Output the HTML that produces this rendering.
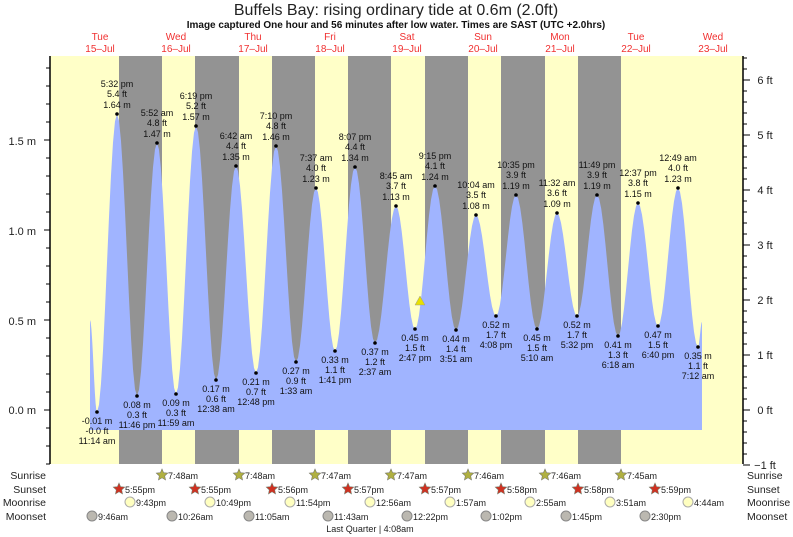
<!DOCTYPE html><html><head><meta charset="utf-8"><style>
body{margin:0;background:#fff}
svg{display:block;font-family:"Liberation Sans",sans-serif}
</style></head><body>
<svg id="s" width="793" height="537" viewBox="0 0 793 537" xmlns="http://www.w3.org/2000/svg">
<rect x="50" y="56" width="693" height="408" fill="#ffffc8"/>
<g id="bands" fill="#939393"></g>
<path id="tide" fill="#a0b4ff"/>
<g id="lbl" font-size="9" fill="#111" text-anchor="middle"></g>
<polygon points="420,296 415,305 425,305" fill="#e8e000" stroke="#999" stroke-width="0.5"/>
<line x1="50" y1="56" x2="50" y2="464" stroke="#000" stroke-width="1.5"/>
<line x1="743" y1="56" x2="743" y2="464" stroke="#000" stroke-width="1.5"/>
<g id="ax" font-size="11" fill="#222"></g>
<text x="396" y="15" font-size="16" text-anchor="middle" fill="#222">Buffels Bay: rising  ordinary tide at 0.6m (2.0ft)</text>
<text x="396" y="28" font-size="10" font-weight="bold" text-anchor="middle" fill="#111">Image captured One hour and 56 minutes after low water. Times are SAST (UTC +2.0hrs)</text>
<g id="days" font-size="10" fill="#f03030" text-anchor="middle"></g>
<g font-size="10.5" fill="#222">
<text x="46" y="479" text-anchor="end">Sunrise</text><text x="46" y="493" text-anchor="end">Sunset</text>
<text x="46" y="506" text-anchor="end">Moonrise</text><text x="46" y="520" text-anchor="end">Moonset</text>
<text x="747" y="479">Sunrise</text><text x="747" y="493">Sunset</text>
<text x="747" y="506">Moonrise</text><text x="747" y="520">Moonset</text>
</g>
<g id="astro" font-size="9" fill="#222"></g>
<text x="370" y="532" font-size="9" text-anchor="middle" fill="#222">Last Quarter | 4:08am</text>
</svg>
<script>
var NS="http://www.w3.org/2000/svg";
function el(p,t,a,txt){var e=document.createElementNS(NS,t);for(var k in a)e.setAttribute(k,a[k]);if(txt!=null)e.textContent=txt;document.getElementById(p).appendChild(e);return e;}
[[119,162],[195,239],[272,315],[348,391],[425,468],[501,545],[578,621]].forEach(function(b){el("bands","rect",{x:b[0],y:56,width:b[1]-b[0],height:408});});
var pts=[[90,320],[97,412,'-0.01 m','-0.0 ft','11:14 am'],[117,114,'5:32 pm','5.4 ft','1.64 m'],[137,396,'0.08 m','0.3 ft','11:46 pm'],[157,143,'5:52 am','4.8 ft','1.47 m'],[176,394,'0.09 m','0.3 ft','11:59 am'],[196,126,'6:19 pm','5.2 ft','1.57 m'],[216,380,'0.17 m','0.6 ft','12:38 am'],[236,166,'6:42 am','4.4 ft','1.35 m'],[256,373,'0.21 m','0.7 ft','12:48 pm'],[276,146,'7:10 pm','4.8 ft','1.46 m'],[296,362,'0.27 m','0.9 ft','1:33 am'],[316,188,'7:37 am','4.0 ft','1.23 m'],[335,351,'0.33 m','1.1 ft','1:41 pm'],[355,167,'8:07 pm','4.4 ft','1.34 m'],[375,343,'0.37 m','1.2 ft','2:37 am'],[396,206,'8:45 am','3.7 ft','1.13 m'],[415,329,'0.45 m','1.5 ft','2:47 pm'],[435,186,'9:15 pm','4.1 ft','1.24 m'],[456,330,'0.44 m','1.4 ft','3:51 am'],[476,215,'10:04 am','3.5 ft','1.08 m'],[496,316,'0.52 m','1.7 ft','4:08 pm'],[516,195,'10:35 pm','3.9 ft','1.19 m'],[537,329,'0.45 m','1.5 ft','5:10 am'],[557,213,'11:32 am','3.6 ft','1.09 m'],[577,316,'0.52 m','1.7 ft','5:32 pm'],[597,195,'11:49 pm','3.9 ft','1.19 m'],[618,336,'0.41 m','1.3 ft','6:18 am'],[638,203,'12:37 pm','3.8 ft','1.15 m'],[658,326,'0.47 m','1.5 ft','6:40 pm'],[678,188,'12:49 am','4.0 ft','1.23 m'],[698,347,'0.35 m','1.1 ft','7:12 am'],[702,322]];
var d="M90,430 L90,320";
for(var i=0;i<pts.length-1;i++){var a=pts[i],b=pts[i+1];for(var k=1;k<=10;k++){var t=k/10;var x=a[0]+(b[0]-a[0])*t;var y=a[1]+(b[1]-a[1])*(1-Math.cos(Math.PI*t))/2;d+=" L"+x.toFixed(1)+","+y.toFixed(1);}}
d+=" L702,430 Z";document.getElementById("tide").setAttribute("d",d);
pts.forEach(function(p,i){if(!p[2])return;el("lbl","circle",{cx:p[0],cy:p[1],r:1.8,fill:"#000"});
 var hi=p[1]<300;if(hi){el("lbl","text",{x:p[0],y:p[1]-27},p[2]);el("lbl","text",{x:p[0],y:p[1]-17},p[3]);el("lbl","text",{x:p[0],y:p[1]-6},p[4]);}
 else{el("lbl","text",{x:p[0],y:p[1]+12},p[2]);el("lbl","text",{x:p[0],y:p[1]+22},p[3]);el("lbl","text",{x:p[0],y:p[1]+32},p[4]);}});
[["1.5 m",141],["1.0 m",231],["0.5 m",321],["0.0 m",410]].forEach(function(l){el("ax","text",{x:36,y:l[1]+4,"text-anchor":"end"},l[0]);});
for(var y=410-18*20;y<=464;y+=18){if(y<56)continue;var maj=((410-y)/18)%5==0;el("ax","line",{x1:maj?44:46,y1:y,x2:50,y2:y,stroke:"#000"});}
for(var f=-1;f<=6;f++){var y=410-55*f;el("ax","text",{x:765,y:y+4,"text-anchor":"middle"},(f<0?"\u22121":f)+" ft");el("ax","line",{x1:743,y1:y,x2:750,y2:y,stroke:"#000"});}
for(var f=-1;f<6.6;f+=0.2){var y=410-55*f;if(y<56)continue;el("ax","line",{x1:743,y1:y,x2:747,y2:y,stroke:"#000"});}
var dn=[["Tue","15\u2013Jul",100],["Wed","16\u2013Jul",176],["Thu","17\u2013Jul",253],["Fri","18\u2013Jul",330],["Sat","19\u2013Jul",407],["Sun","20\u2013Jul",483],["Mon","21\u2013Jul",560],["Tue","22\u2013Jul",636],["Wed","23\u2013Jul",713]];
dn.forEach(function(q){el("days","text",{x:q[2],y:40},q[0]);el("days","text",{x:q[2],y:52},q[1]);});
function star(cx,cy,fill){var s="";for(var j=0;j<10;j++){var r=j%2?2.8:6;var an=-Math.PI/2+j*Math.PI/5;s+=(cx+r*Math.cos(an)).toFixed(1)+","+(cy+r*Math.sin(an)).toFixed(1)+" ";}el("astro","polygon",{points:s,fill:fill,stroke:"#776",'stroke-width':0.6});}
var sr=["7:48am","7:48am","7:47am","7:47am","7:46am","7:46am","7:45am"];
[162,239,315,391,468,545,621].forEach(function(x,i){star(x,475,"#b0b040");el("astro","text",{x:x+6,y:479},sr[i]);});
var ss=["5:55pm","5:55pm","5:56pm","5:57pm","5:57pm","5:58pm","5:58pm","5:59pm"];
[119,195,272,348,425,501,578,655].forEach(function(x,i){star(x,489,"#d03020");el("astro","text",{x:x+6,y:493},ss[i]);});
var mr=["9:43pm","10:49pm","11:54pm","12:56am","1:57am","2:55am","3:51am","4:44am"];
[130,210,290,370,450,530,610,688].forEach(function(x,i){el("astro","circle",{cx:x,cy:502,r:5,fill:"#ffffc0",stroke:"#aaa"});el("astro","text",{x:x+6,y:506},mr[i]);});
var ms=["9:46am","10:26am","11:05am","11:43am","12:22pm","1:02pm","1:45pm","2:30pm"];
[92,172,249,328,407,486,566,645].forEach(function(x,i){el("astro","circle",{cx:x,cy:516,r:5,fill:"#bbb8b0",stroke:"#888"});el("astro","text",{x:x+6,y:520},ms[i]);});
</script>
</body></html>
